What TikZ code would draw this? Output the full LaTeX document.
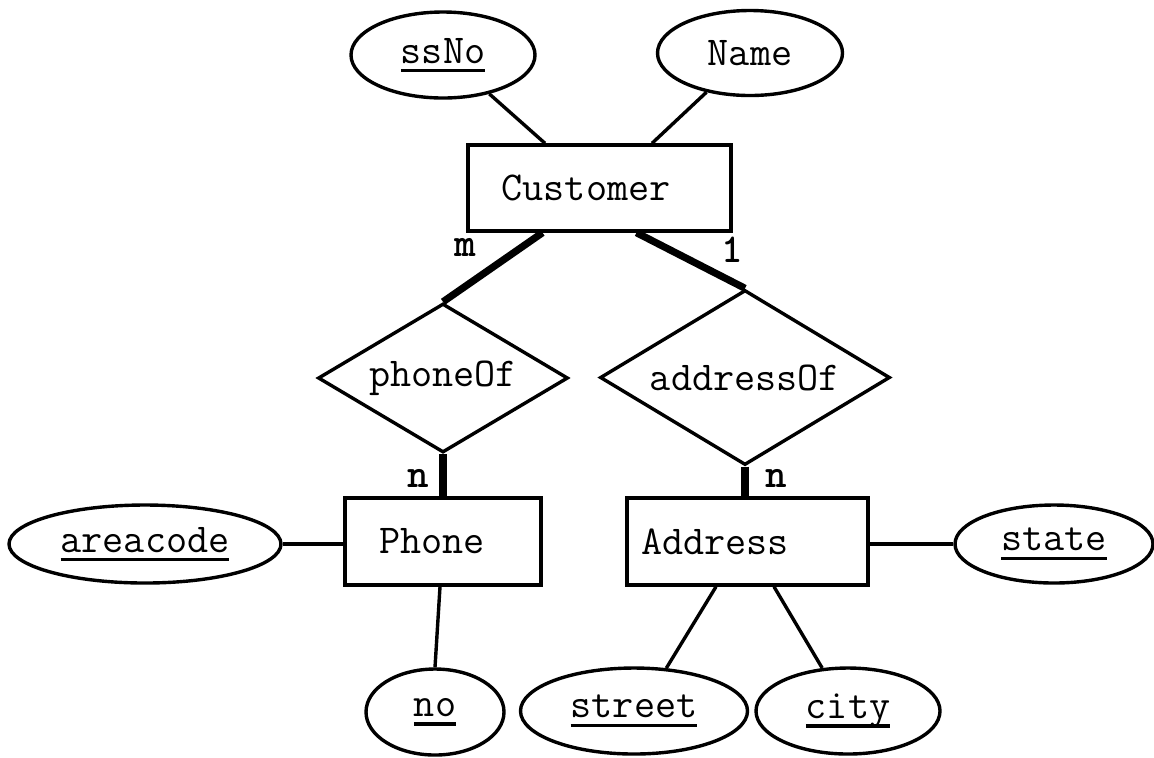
\documentclass[tikz,border=0pt]{standalone}
\usepackage{fontspec}
\usetikzlibrary{shapes.geometric,calc}
\newcommand\keyul[1]{\setbox0=\hbox{#1}\rlap{\rule[-4.5pt]{\wd0}{1.6pt}}\box0}
\tikzset{
  attr/.style={ellipse, draw, line width=1.7pt, inner sep=0pt},
  entity/.style={rectangle, draw, line width=1.7pt, inner sep=0pt},
  rel/.style={diamond, draw, line width=1.7pt, inner sep=0pt},
  conn/.style={line width=1.7pt},
  tot/.style={line width=3.6pt},
  card/.style={font=\fontsize{20.5pt}{22pt}\ttfamily\bfseries, inner sep=0pt},
}
\begin{document}
\begin{tikzpicture}[x=0.5pt,y=-0.5pt,font=\fontsize{20.5pt}{22pt}\ttfamily]
\useasboundingbox (0,0) rectangle (1154,757);
% attributes of Customer
\node[attr, minimum width=92pt, minimum height=43pt] (ssNo) at (443,55) {\keyul{ssNo}};
\node[attr, minimum width=92.5pt, minimum height=42.5pt] (name) at (750,53) {Name};
% entities
\node[entity, minimum width=131.5pt, minimum height=43pt] (cust) at (599.5,188) {Customer\hspace*{13.5pt}};
\node[entity, minimum width=98pt, minimum height=43.5pt] (phone) at (443,541.5) {Phone\hspace*{11pt}};
\node[entity, minimum width=120.5pt, minimum height=43.5pt] (addr) at (747.5,541.5) {Address\hspace*{32.5pt}};
% relationships
\node[rel, aspect=1.68, minimum width=125pt, minimum height=74.5pt] (phoneOf) at (443,378) {phoneOf};
\node[rel, aspect=1.657, minimum width=145pt, minimum height=87.5pt] (addressOf) at (745,377.5) {addressOf};
% other attributes
\node[attr, minimum width=136pt, minimum height=39pt] (area) at (145,544) {\keyul{areacode}};
\node[attr, minimum width=69pt, minimum height=43pt] (no) at (435,712) {\keyul{no}};
\node[attr, minimum width=113.5pt, minimum height=43pt] (street) at (634,711) {\keyul{street}};
\node[attr, minimum width=92pt, minimum height=43pt] (city) at (848,711) {\keyul{city}};
\node[attr, minimum width=99pt, minimum height=39pt] (state) at (1054,544) {\keyul{state}};
% connectors
\draw[conn] (ssNo.-40) -- ($(cust.north)+(-54.5,0)$);
\draw[conn] (name.-138) -- ($(cust.north)+(52.5,0)$);
\draw[tot] ($(cust.south)+(-57,0)$) -- (phoneOf.north);
\draw[tot] ($(cust.south)+(37,0)$) -- (addressOf.north);
\draw[tot] (phoneOf.south) -- (phoneOf.south |- phone.north);
\draw[tot] (addressOf.south) -- (addressOf.south |- addr.north);
\draw[conn] (area.east) -- (area.east -| phone.west);
\draw[conn] ($(phone.south)+(-3,0)$) -- (no.north);
\draw[conn] ($(addr.south)+(-31.5,0)$) -- (street.53);
\draw[conn] ($(addr.south)+(26.5,0)$) -- (city.121);
\draw[conn] (state.west -| addr.east) -- (state.west);
% cardinalities
\node[card] (cm) at (465,247) {m};
\node[card] (c1) at (732,250) {1};
\node[card] (cn1) at (418,478) {n};
\node[card] (cn2) at (776,478) {n};
\end{tikzpicture}
\end{document}
